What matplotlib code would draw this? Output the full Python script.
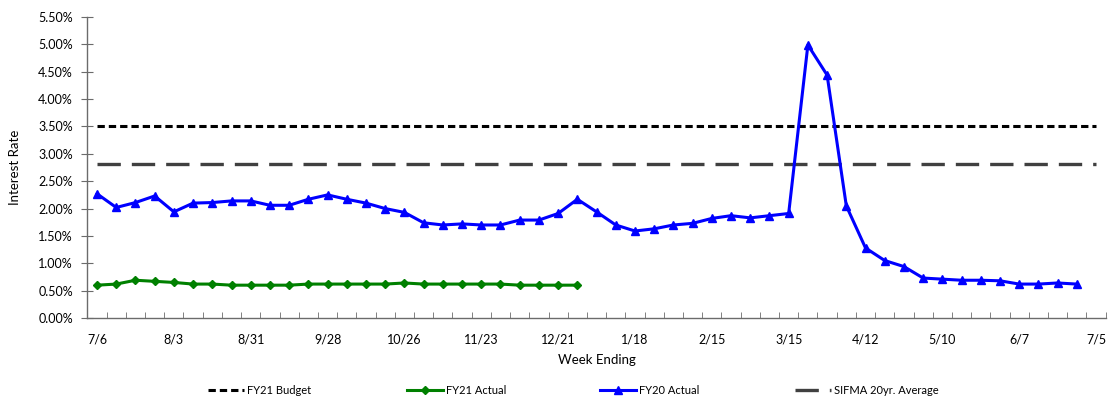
import numpy as np
import matplotlib
matplotlib.use('Agg')
import matplotlib.pyplot as plt

plt.rcParams['font.family'] = ['Lato', 'DejaVu Sans']

# weekly data, 7/6 .. 7/5 (53 weeks)
n_weeks = 53
tick_labels = ['7/6', '8/3', '8/31', '9/28', '10/26', '11/23', '12/21',
               '1/18', '2/15', '3/15', '4/12', '5/10', '6/7', '7/5']

fy20_actual = [2.27, 2.02, 2.11, 2.23, 1.94, 2.10, 2.11, 2.14, 2.14, 2.06,
               2.06, 2.17, 2.25, 2.17, 2.10, 2.00, 1.93, 1.74, 1.70, 1.72,
               1.70, 1.70, 1.79, 1.79, 1.91, 2.17, 1.94, 1.70, 1.59, 1.63,
               1.70, 1.73, 1.82, 1.87, 1.83, 1.87, 1.91, 4.99, 4.44, 2.05,
               1.28, 1.05, 0.94, 0.73, 0.71, 0.69, 0.69, 0.68, 0.62, 0.62,
               0.64, 0.62]
fy21_actual = [0.60, 0.62, 0.69, 0.67, 0.65, 0.62, 0.62, 0.60, 0.60, 0.60,
               0.60, 0.62, 0.62, 0.62, 0.62, 0.62, 0.64, 0.62, 0.62, 0.62,
               0.62, 0.62, 0.60, 0.60, 0.60, 0.60]
fy21_budget = 3.50
sifma_avg = 2.81

weeks = np.arange(n_weeks)
budget = np.full(n_weeks, fy21_budget)
sifma = np.full(n_weeks, sifma_avg)

fig = plt.figure(figsize=(11.08, 3.97), dpi=100)
ax = fig.add_axes([0.0789, 0.199, 0.919, 0.758])

l_budget, = ax.plot(weeks, budget / 100, color='black', lw=2.2, dashes=(2.4, 1.3))
l_sifma, = ax.plot(weeks, sifma / 100, color='#404040', lw=2.4, dashes=(7, 3.3))
l_fy21, = ax.plot(weeks[:len(fy21_actual)], np.array(fy21_actual) / 100, color='#008000',
                  lw=2.2, marker='D', ms=4.5)
l_fy20, = ax.plot(weeks[:len(fy20_actual)], np.array(fy20_actual) / 100, color='#0000FF',
                  lw=2.2, marker='^', ms=5.5)

ax.set_xlim(-0.5, n_weeks - 0.5)
ax.set_ylim(0, 0.055)
yt = np.arange(0, 0.0551, 0.005)
ax.set_yticks(yt)
ax.set_yticklabels(['%.2f%%' % (v * 100) for v in yt])
ax.set_xticks(np.arange(0, n_weeks, 4))
ax.set_xticklabels(tick_labels)
ax.set_xticks(np.arange(-0.5, n_weeks, 1), minor=True)

for s in ['top', 'right']:
    ax.spines[s].set_visible(False)
for s in ['left', 'bottom']:
    ax.spines[s].set_color('#6b6b6b')
    ax.spines[s].set_linewidth(1.0)

ax.tick_params(axis='y', direction='inout', length=8, color='#6b6b6b', labelsize=9, pad=6.5)
ax.tick_params(axis='x', which='major', length=0, labelsize=9, pad=11)
ax.tick_params(axis='x', which='minor', direction='in', length=4, color='#6b6b6b')

ax.set_xlabel('Week Ending', fontsize=9.5, labelpad=6)
ax.set_ylabel('Interest Rate', fontsize=9.5, labelpad=12)

# legend entries spread along the bottom
entries = [(l_budget, 'FY21 Budget', 208), (l_fy21, 'FY21 Actual', 407),
           (l_fy20, 'FY20 Actual', 600), (l_sifma, 'SIFMA 20yr. Average', 795)]
for h, lab, xpix in entries:
    fig.legend([h], [lab], loc='center left', bbox_to_anchor=(xpix / 1108, 1 - 390 / 397),
               frameon=False, fontsize=8, handlelength=3.2, handletextpad=0.3,
               borderaxespad=0, borderpad=0)

fig.savefig('out.png', dpi=100)
